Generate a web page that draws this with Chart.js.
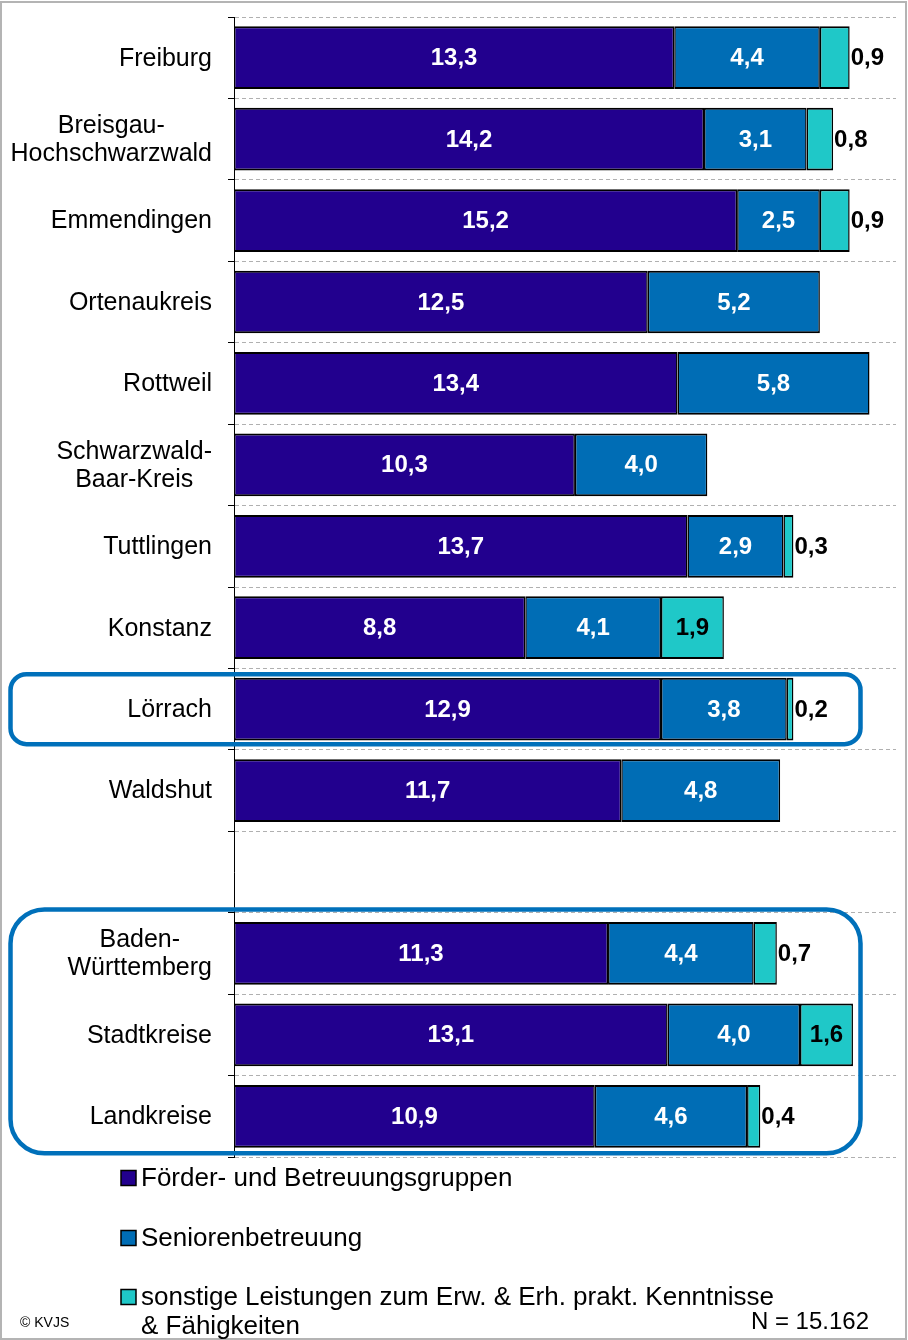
<!DOCTYPE html>
<html><head><meta charset="utf-8">
<script src="https://cdn.jsdelivr.net/npm/chart.js@4.4.1/dist/chart.umd.min.js"></script>
<style>html,body{margin:0;padding:0;background:#fff}#wrap{position:relative;width:908px;height:1340px}</style>
</head><body><div id="wrap"><canvas id="c"></canvas></div>
<script>
// ---- data ----
const categories = [['Freiburg'],['Breisgau-','Hochschwarzwald'],['Emmendingen'],['Ortenaukreis'],['Rottweil'],['Schwarzwald-','Baar-Kreis'],['Tuttlingen'],['Konstanz'],['Lörrach'],['Waldshut'],[''],['Baden-','Württemberg'],['Stadtkreise'],['Landkreise']];
const seriesNames = ['Förder- und Betreuungsgruppen','Seniorenbetreuung','sonstige Leistungen zum Erw. & Erh. prakt. Kenntnisse & Fähigkeiten'];
const foerder  = [13.3,14.2,15.2,12.5,13.4,10.3,13.7,8.8,12.9,11.7,null,11.3,13.1,10.9];
const senioren = [4.4,3.1,2.5,5.2,5.8,4.0,2.9,4.1,3.8,4.8,null,4.4,4.0,4.6];
const sonstige = [0.9,0.8,0.9,null,null,null,0.3,1.9,0.2,null,null,0.7,1.6,0.4];
const xMin = 0, xMax = 20;
const highlightRows = [[8,8],[11,13]];
const footLeft = '© KVJS';
const footRight = 'N = 15.162';
const colors = ['#22008E','#006DB5','#1FC8C8'];

const fmt = v => v.toFixed(1).replace('.', ',');
const FONT = '"Liberation Sans", Arial, sans-serif';

const bgPlugin = {id:'bg', beforeDraw(chart){const c=chart.ctx;c.save();c.fillStyle='#fff';c.fillRect(0,0,chart.width,chart.height);c.restore();},
  afterDraw(chart){const c=chart.ctx;c.save();c.strokeStyle='#b4b4b4';c.lineWidth=2;c.strokeRect(1,2,905,1337);c.restore();}};

const catLabelPlugin = {id:'catLabels', afterDraw(chart){
  const c=chart.ctx, ys=chart.scales.y; c.save();
  c.font='25px '+FONT; c.fillStyle='#000'; c.textBaseline='middle'; c.textAlign='center';
  const right = chart.chartArea.left - 22, lh = 28;
  categories.forEach((lines,i)=>{
    const cy = ys.getPixelForValue(i);
    const mw = Math.max(...lines.map(l=>c.measureText(l).width));
    const cx = right - mw/2;
    const y0 = cy - (lines.length-1)*lh/2;
    lines.forEach((l,k)=>c.fillText(l,cx,y0+k*lh+1));
  });
  c.restore();
}};

const valuePlugin = {id:'values', afterDatasetsDraw(chart){
  const c=chart.ctx; c.save(); c.font='bold 24px '+FONT; c.textBaseline='middle';
  chart.data.datasets.forEach((ds,i)=>{
    const meta=chart.getDatasetMeta(i);
    meta.data.forEach((bar,j)=>{
      const v=ds.data[j]; if(v==null) return;
      const t=fmt(v); const l=Math.min(bar.x,bar.base), r=Math.max(bar.x,bar.base);
      const tw=c.measureText(t).width;
      if(i<2){c.fillStyle='#fff';c.textAlign='center';c.fillText(t,(l+r)/2,bar.y+1);}
      else if(tw < r-l-6){c.fillStyle='#000';c.textAlign='center';c.fillText(t,(l+r)/2,bar.y+1);}
      else {c.fillStyle='#000';c.textAlign='left';c.fillText(t,r+1,bar.y+1);}
    });
  });
  c.restore();
}};

const boxPlugin = {id:'boxes', afterDraw(chart){
  const c=chart.ctx, ys=chart.scales.y; c.save();
  c.strokeStyle='#0070BA'; c.lineWidth=4.5;
  const specs=[{top:35,bot:35,r:16},{top:44,bot:37,r:34}];
  highlightRows.forEach((rg,k)=>{
    const s=specs[k];
    const t=ys.getPixelForValue(rg[0])-s.top, b=ys.getPixelForValue(rg[1])+s.bot;
    c.beginPath(); c.roundRect(10.5,t,850,b-t,s.r); c.stroke();
  });
  c.restore();
}};

function wrap(c,text,maxW){const words=text.split(' ');const out=[];let cur='';
  words.forEach(w=>{const test=cur?cur+' '+w:w; if(c.measureText(test).width>maxW&&cur){out.push(cur);cur=w;}else cur=test;});
  if(cur) out.push(cur); return out;}

const legendPlugin = {id:'legendCustom', afterDraw(chart){
  const c=chart.ctx; c.save(); c.font='26px '+FONT; c.textBaseline='middle'; c.textAlign='left';
  const ys=[1178,1238,1297];
  seriesNames.forEach((n,i)=>{
    const y=ys[i];
    c.fillStyle=colors[i]; c.fillRect(121,y-7.5,15,15);
    c.strokeStyle='#000'; c.lineWidth=1.5; c.strokeRect(121,y-7.5,15,15);
    c.fillStyle='#000';
    wrap(c,n,650).forEach((l,k)=>c.fillText(l,141,y+1+k*29));
  });
  c.font='14px '+FONT; c.fillText(footLeft,20,1323);
  c.font='24px '+FONT; c.textAlign='right'; c.fillText(footRight,869,1322);
  c.restore();
}};

const mk=(i,data)=>({label:seriesNames[i],data,backgroundColor:colors[i],borderColor:'#000',
  borderWidth:{top:2,bottom:2,left:1.5,right:1.5},borderSkipped:false,barPercentage:0.77,categoryPercentage:1});

new Chart(document.getElementById('c'),{
  type:'bar',
  data:{labels:categories.map(l=>l.join(' ')),datasets:[mk(0,foerder),mk(1,senioren),mk(2,sonstige)]},
  options:{
    indexAxis:'y',responsive:true,maintainAspectRatio:false,animation:false,
    layout:{padding:{left:0,right:12,top:17,bottom:183}},
    plugins:{legend:{display:false},tooltip:{enabled:false}},
    scales:{
      x:{stacked:true,min:xMin,max:xMax,display:false},
      y:{stacked:true,offset:true,
        grid:{offset:true,color:'#b0b0b0',lineWidth:1,drawTicks:true,tickLength:6,tickColor:'#000',tickWidth:1,tickBorderDash:[]},
        border:{display:true,color:'#000',width:1,dash:[4,3]},
        ticks:{display:false},
        afterFit(s){s.width=234;}
      }
    }
  },
  plugins:[bgPlugin,valuePlugin,catLabelPlugin,boxPlugin,legendPlugin]
});
</script></body></html>
